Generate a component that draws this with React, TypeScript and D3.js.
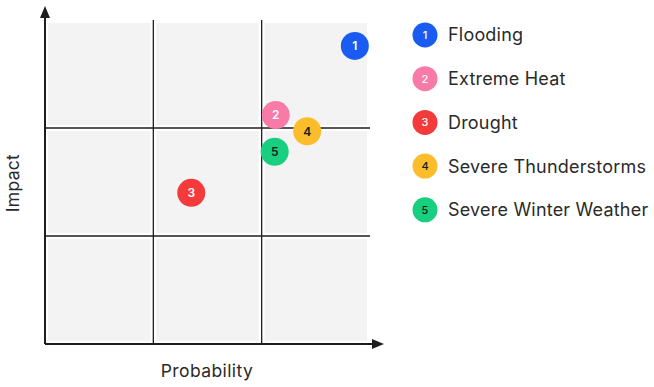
import React from "react";
import * as d3 from "d3";

const risks = ["Flooding", "Extreme Heat", "Drought", "Severe Thunderstorms", "Severe Winter Weather"];
const probability = [2.86, 2.13, 1.35, 2.42, 2.12];
const impact = [2.76, 2.12, 1.40, 1.97, 1.78];
const colors = ["#1a5cf2", "#f77ba6", "#f43a3a", "#fbbd2c", "#17cf7e"];
const labelColors = ["#ffffff", "#ffffff", "#ffffff", "#1a1a1a", "#1a1a1a"];
const gridTicks = [0, 1, 2, 3];

const W = 654, H = 387;
const left = 45, right = 370, top = 20, bottom = 344;
const FONT = "Inter, 'Noto Sans', sans-serif";

export default function App() {
  const x = d3.scaleLinear().domain([0, 3]).range([left, right]);
  const y = d3.scaleLinear().domain([0, 3]).range([bottom, top]);
  const cells: { i: number; j: number }[] = [];
  for (let i = 0; i < 3; i++) for (let j = 0; j < 3; j++) cells.push({ i, j });
  const order = [0, 2, 1, 4, 3];
  return (
    <svg width={W} height={H} style={{ position: "absolute", left: 0, top: 0, background: "#fff" }}>
      {cells.map(({ i, j }) => (
        <rect key={`c${i}${j}`} x={x(i) + 3} y={y(j + 1) + 3} width={x(i + 1) - x(i) - 6} height={y(j) - y(j + 1) - 6} fill="#f3f3f3" />
      ))}
      {gridTicks.slice(1, 3).map((t) => (
        <line key={`v${t}`} x1={x(t)} x2={x(t)} y1={top} y2={bottom} stroke="#1e1e1e" strokeWidth={1.3} />
      ))}
      {gridTicks.slice(1, 3).map((t) => (
        <line key={`h${t}`} x1={left} x2={right} y1={y(t)} y2={y(t)} stroke="#1e1e1e" strokeWidth={1.3} />
      ))}
      <line x1={left} x2={left} y1={bottom} y2={14} stroke="#1e1e1e" strokeWidth={2} />
      <line x1={left} x2={376} y1={bottom} y2={bottom} stroke="#1e1e1e" strokeWidth={2} />
      <path d={`M${left - 5},18 L${left},6 L${left + 5},18 Z`} fill="#1e1e1e" />
      <path d={`M372,${bottom - 5} L384,${bottom} L372,${bottom + 5} Z`} fill="#1e1e1e" />
      <text x={207} y={377} textAnchor="middle" fontFamily={FONT} fontSize={17.5} letterSpacing={0.4} fill="#2a2a2a">Probability</text>
      <text transform={`translate(19,183) rotate(-90)`} textAnchor="middle" fontFamily={FONT} fontSize={17.5} letterSpacing={0.3} fill="#2a2a2a">Impact</text>
      {order.map((k) => (
        <g key={`b${k}`}>
          <circle cx={x(probability[k])} cy={y(impact[k])} r={14} fill={colors[k]} />
          <text x={x(probability[k])} y={y(impact[k])} dy="0.36em" textAnchor="middle" fontFamily={FONT} fontSize={12} fontWeight={600} fill={labelColors[k]}>{k + 1}</text>
        </g>
      ))}
      {risks.map((r, k) => {
        const cy = 35 + k * 43.7;
        return (
          <g key={`l${k}`}>
            <circle cx={425} cy={cy} r={12.5} fill={colors[k]} />
            <text x={425} y={cy} dy="0.36em" textAnchor="middle" fontFamily={FONT} fontSize={11} fontWeight={500} fill={labelColors[k]}>{k + 1}</text>
            <text x={448} y={cy} dy="0.36em" fontFamily={FONT} fontSize={18} letterSpacing={0.2} fill="#2a2a2a">{r}</text>
          </g>
        );
      })}
    </svg>
  );
}
